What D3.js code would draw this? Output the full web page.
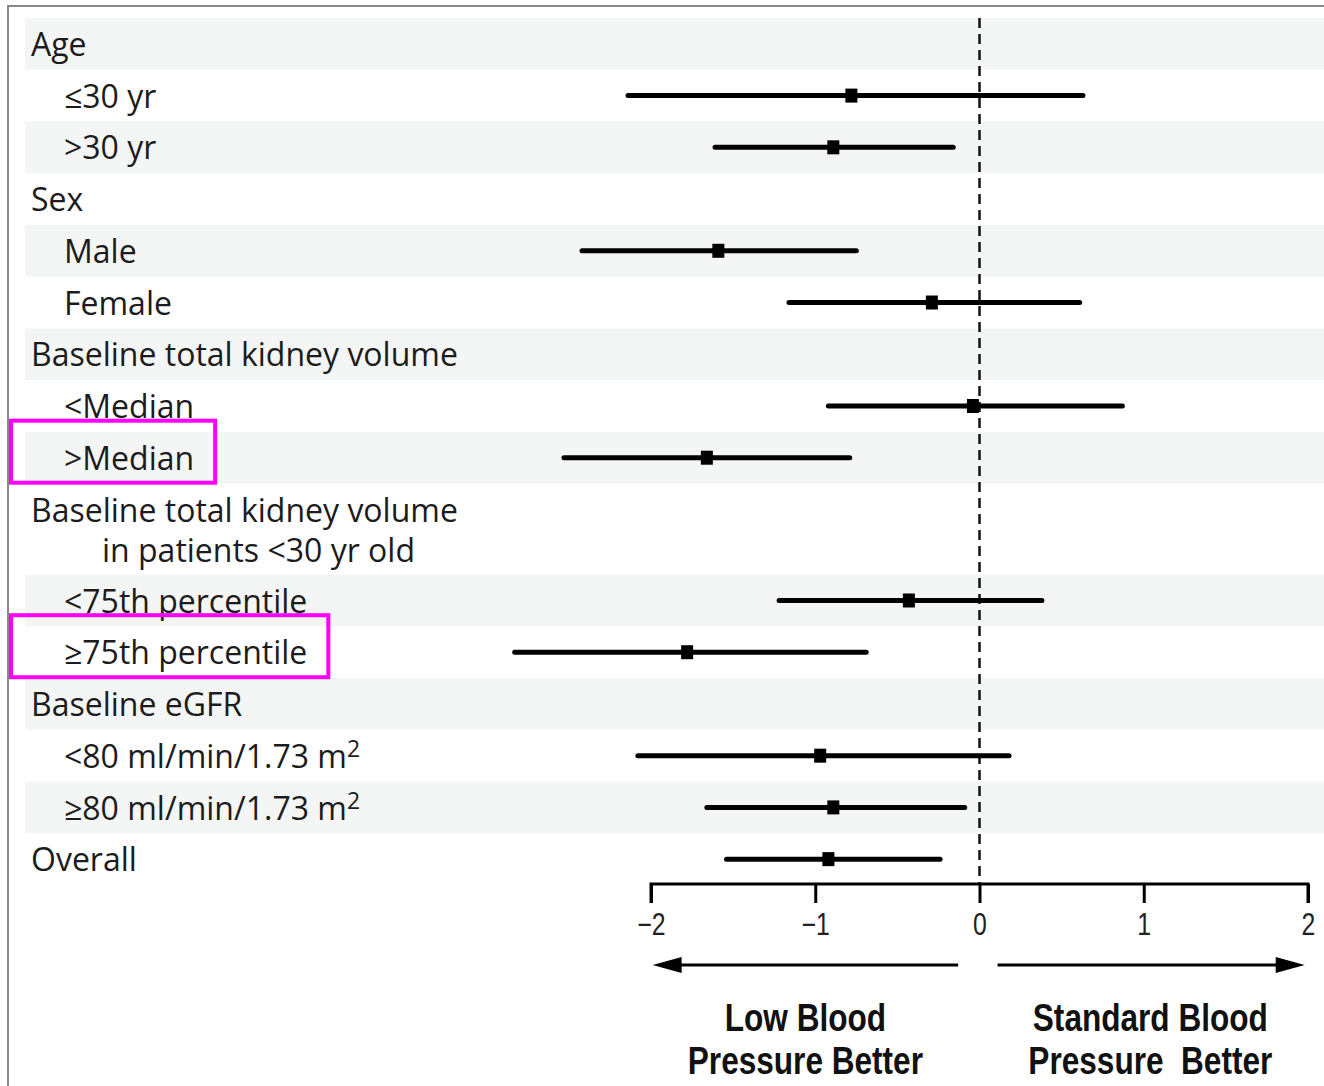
<!DOCTYPE html>
<html>
<head>
<meta charset="utf-8">
<title>Subgroup forest plot</title>
<script src="https://cdn.jsdelivr.net/npm/d3@7"></script>
<style>
  body { margin: 0; background: #fff; }
  svg { display: block; }
  .label { font-family: "Open Sans", Lato, sans-serif; font-size: 32px; fill: #1c1c1c; }
  .tick text { font-family: "Liberation Sans", Arial, sans-serif; font-size: 31px; fill: #222; }
  .side { font-family: "Liberation Sans", Arial, sans-serif; font-size: 39px; font-weight: bold; fill: #111; }
</style>
</head>
<body>
<svg width="1324" height="1086"></svg>
<script>
// rows of the forest plot, top to bottom ("\n" = second line)
var labels = [
  "Age", "≤30 yr", ">30 yr",
  "Sex", "Male", "Female",
  "Baseline total kidney volume", "<Median", ">Median",
  "Baseline total kidney volume\nin patients <30 yr old", "<75th percentile", "≥75th percentile",
  "Baseline eGFR", "<80 ml/min/1.73 m^2", "≥80 ml/min/1.73 m^2",
  "Overall"
];
var level = [0, 1, 1, 0, 1, 1, 0, 1, 1, 0, 1, 1, 0, 1, 1, 0];
var estimate = [null, -0.78, -0.89, null, -1.59, -0.29, null, -0.04, -1.66, null, -0.43, -1.78, null, -0.97, -0.89, -0.92];
var lower    = [null, -2.14, -1.61, null, -2.42, -1.16, null, -0.92, -2.53, null, -1.22, -2.83, null, -2.08, -1.66, -1.54];
var upper    = [null,  0.63, -0.16, null, -0.75,  0.61, null,  0.87, -0.79, null,  0.38, -0.69, null,  0.18, -0.09, -0.24];

var tickValues = [-2, -1, 0, 1, 2];
var leftText = ["Low Blood", "Pressure Better"];
var rightText = ["Standard Blood", "Pressure  Better"];
var highlighted = [">Median", "≥75th percentile"];

var svg = d3.select("svg");

// frame (left and top gray edges)
svg.append("path")
  .attr("d", "M8,1086V6H1324")
  .attr("fill", "none")
  .attr("stroke", "#888")
  .attr("stroke-width", 2);

var x = d3.scaleLinear().domain([-2, 2]).range([651, 1308]);

// row heights: two-line rows get a bit more room
var units = labels.map(function (l) { return 1 + 0.76 * (l.split("\n").length - 1); });
var starts = [0];
units.forEach(function (u, i) { starts.push(starts[i] + u); });
var y = d3.scaleLinear().domain([0, starts[starts.length - 1]]).range([18, 885]);

var rows = labels.map(function (l, i) {
  return { label: l, level: level[i], est: estimate[i], lo: lower[i], hi: upper[i],
           y0: y(starts[i]), y1: y(starts[i + 1]), i: i };
});

// alternating bands
svg.append("g").selectAll("rect")
  .data(rows.filter(function (d) { return d.i % 2 === 0; }))
  .enter().append("rect")
  .attr("x", 25).attr("width", 1324 - 25)
  .attr("y", function (d) { return d.y0; })
  .attr("height", function (d) { return d.y1 - d.y0; })
  .attr("fill", "#f4f5f5");

// labels
var lab = svg.append("g").selectAll("text")
  .data(rows)
  .enter().append("text")
  .attr("class", "label")
  .attr("y", function (d) { return d.y0 + 38; })
  .each(function (d) {
    var t = d3.select(this);
    d.label.split("\n").forEach(function (line, k) {
      var parts = line.split("^");
      t.append("tspan")
        .attr("x", k === 0 ? (d.level ? 64 : 31) : 102)
        .attr("dy", k === 0 ? 0 : 40)
        .text(parts[0]);
      if (parts[1]) {
        t.append("tspan").attr("dy", -11).attr("font-size", 23).text(parts[1]);
      }
    });
  });

// reference line at 0
svg.append("line")
  .attr("x1", x(0)).attr("x2", x(0))
  .attr("y1", 18).attr("y2", 884)
  .attr("stroke", "#111")
  .attr("stroke-width", 2.5)
  .attr("stroke-dasharray", "10,6");

// confidence intervals and point estimates
var data = rows.filter(function (d) { return d.est !== null; });
var marks = svg.append("g");
marks.selectAll("line")
  .data(data)
  .enter().append("line")
  .attr("x1", function (d) { return x(d.lo); })
  .attr("x2", function (d) { return x(d.hi); })
  .attr("y1", function (d) { return (d.y0 + d.y1) / 2; })
  .attr("y2", function (d) { return (d.y0 + d.y1) / 2; })
  .attr("stroke", "#000")
  .attr("stroke-width", 5)
  .attr("stroke-linecap", "round");
marks.selectAll("rect")
  .data(data)
  .enter().append("rect")
  .attr("x", function (d) { return x(d.est) - 6; })
  .attr("y", function (d) { return (d.y0 + d.y1) / 2 - 7; })
  .attr("width", 12).attr("height", 14)
  .attr("fill", "#000");

// x axis
var axis = svg.append("g")
  .attr("transform", "translate(0,884)")
  .call(d3.axisBottom(x).tickValues(tickValues).tickFormat(d3.format("d"))
    .tickSize(19).tickSizeOuter(0));
axis.select(".domain").attr("stroke", "#000").attr("stroke-width", 3)
  .attr("d", "M" + x(-2) + ",19V0H" + x(2) + "V19");
axis.selectAll(".tick line").attr("stroke", "#000").attr("stroke-width", 3);
// narrow the tick labels like a condensed face
axis.selectAll(".tick text")
  .attr("y", 0).attr("dy", 0)
  .attr("transform", "translate(0,51) scale(0.8,1)");

// direction arrows
function arrow(from, to) {
  var x0 = x(from), x1 = x(to), dir = x1 > x0 ? 1 : -1, ay = 965;
  svg.append("line")
    .attr("x1", x0).attr("x2", x1 - dir * 20)
    .attr("y1", ay).attr("y2", ay)
    .attr("stroke", "#000").attr("stroke-width", 3);
  svg.append("path")
    .attr("d", "M" + x1 + "," + ay + "L" + (x1 - dir * 29) + "," + (ay - 8) +
               "L" + (x1 - dir * 29) + "," + (ay + 8) + "Z")
    .attr("fill", "#000");
}
arrow(-0.13, -1.99);
arrow(0.11, 1.98);

function sideText(lines, cx) {
  var g = svg.append("g").attr("transform", "translate(" + cx + ",0) scale(0.81,1)");
  var t = g.append("text").attr("class", "side").attr("text-anchor", "middle");
  lines.forEach(function (l, k) {
    t.append("tspan").attr("x", 0).attr("y", 1031 + k * 43).attr("xml:space", "preserve").text(l);
  });
}
sideText(leftText, x(-1.06));
sideText(rightText, x(1.04));

// highlight boxes around selected labels
lab.filter(function (d) { return highlighted.indexOf(d.label) >= 0; })
  .each(function (d) {
    var b = this.getBBox();
    var cy = (d.y0 + d.y1) / 2 - 6;
    svg.append("rect")
      .attr("x", 11).attr("y", cy - 31)
      .attr("width", b.x + b.width + 21 - 11).attr("height", 62)
      .attr("fill", "none")
      .attr("stroke", "#ff00ff")
      .attr("stroke-width", 4);
  });
</script>
</body>
</html>
